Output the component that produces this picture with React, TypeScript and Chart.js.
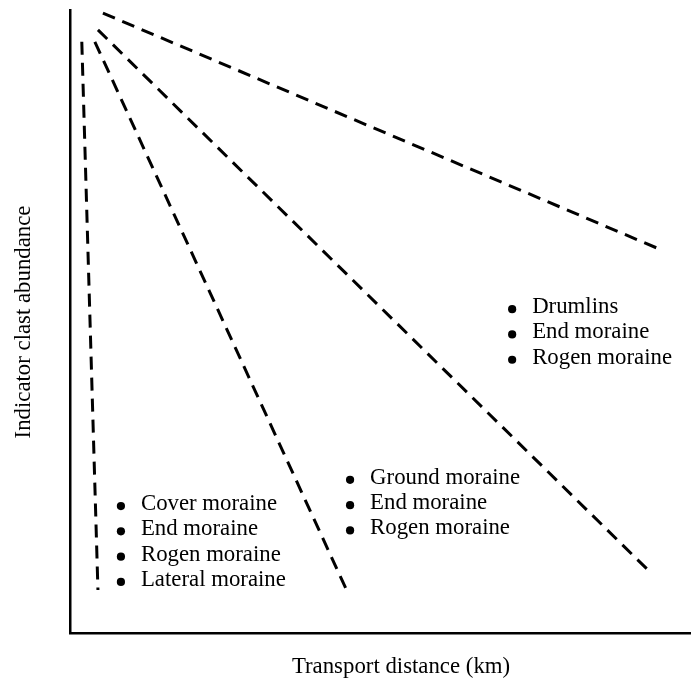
import React, { useEffect, useRef } from "react";
import { Chart, registerables } from "chart.js";

Chart.register(...registerables);

// Transport distance (relative units, 0-100) and indicator clast abundance (relative, 0-100)
const curveNames = ["Very short", "Short", "Intermediate", "Long"];
const curveStartX = [1.9, 4.0, 4.5, 5.3];
const curveStartY = [94.9, 94.9, 96.8, 99.5];
const curveEndX = [4.5, 44.9, 93.4, 95.2];
const curveEndY = [6.9, 6.1, 9.8, 61.5];

const groupA = ["Cover moraine", "End moraine", "Rogen moraine", "Lateral moraine"];
const groupB = ["Ground moraine", "End moraine", "Rogen moraine"];
const groupC = ["Drumlins", "End moraine", "Rogen moraine"];
const groupAnchorX = [8.2, 45.1, 71.2];
const groupAnchorY = [20.7, 24.9, 52.3];
const groups = [groupA, groupB, groupC];

const xTitle = "Transport distance (km)";
const yTitle = "Indicator clast abundance";

const FONT = "22.8px 'Liberation Serif', 'Times New Roman', serif";

const labelPlugin = {
  id: "labels",
  afterDraw(chart: any) {
    const ctx = chart.ctx;
    const xs = chart.scales.x;
    const ys = chart.scales.y;
    ctx.save();
    ctx.fillStyle = "#000";
    ctx.font = FONT;
    ctx.textBaseline = "middle";
    ctx.textAlign = "left";
    groups.forEach((items, gi) => {
      const bx = xs.getPixelForValue(groupAnchorX[gi]);
      const by = ys.getPixelForValue(groupAnchorY[gi]);
      items.forEach((t, i) => {
        const y = by + i * 25.3;
        ctx.beginPath();
        ctx.arc(bx, y + 2, 4.1, 0, Math.PI * 2);
        ctx.fill();
        ctx.fillText(t, bx + 20, y);
      });
    });
    // axis titles
    ctx.textAlign = "center";
    ctx.fillText(xTitle, 401, 667);
    ctx.translate(24, 322);
    ctx.rotate(-Math.PI / 2);
    ctx.fillText(yTitle, 0, 0);
    ctx.restore();
  },
};

export default function App() {
  const ref = useRef<HTMLCanvasElement | null>(null);
  useEffect(() => {
    document.body.style.margin = "0";
    const datasets = curveNames.map((name, i) => ({
      label: name,
      data: [
        { x: curveStartX[i], y: curveStartY[i] },
        { x: curveEndX[i], y: curveEndY[i] },
      ],
      borderColor: "#000",
      borderWidth: 3,
      borderDash: [13, 8],
      pointRadius: 0,
      fill: false,
      tension: 0,
    }));
    const chart = new Chart(ref.current as HTMLCanvasElement, {
      type: "line",
      data: { datasets },
      options: {
        animation: false,
        responsive: false,
        maintainAspectRatio: false,
        layout: { padding: { left: 70, right: 0, top: 10, bottom: 51 } },
        plugins: { legend: { display: false }, tooltip: { enabled: false } },
        scales: {
          x: {
            type: "linear",
            min: 0,
            max: 100,
            grid: { display: false, drawTicks: false },
            ticks: { display: false },
            border: { display: true, color: "#000", width: 2.5 },
            afterFit: (s: any) => { s.height = 0; },
          },
          y: {
            type: "linear",
            min: 0,
            max: 100,
            grid: { display: false, drawTicks: false },
            ticks: { display: false },
            border: { display: true, color: "#000", width: 2.5 },
            afterFit: (s: any) => { s.width = 0; },
          },
        },
      },
      plugins: [labelPlugin],
    });
    return () => chart.destroy();
  }, []);
  return (
    <div style={{ position: "relative", width: 691, height: 684, background: "#fff" }}>
      <canvas ref={ref} width={691} height={684} style={{ display: "block" }} />
    </div>
  );
}
